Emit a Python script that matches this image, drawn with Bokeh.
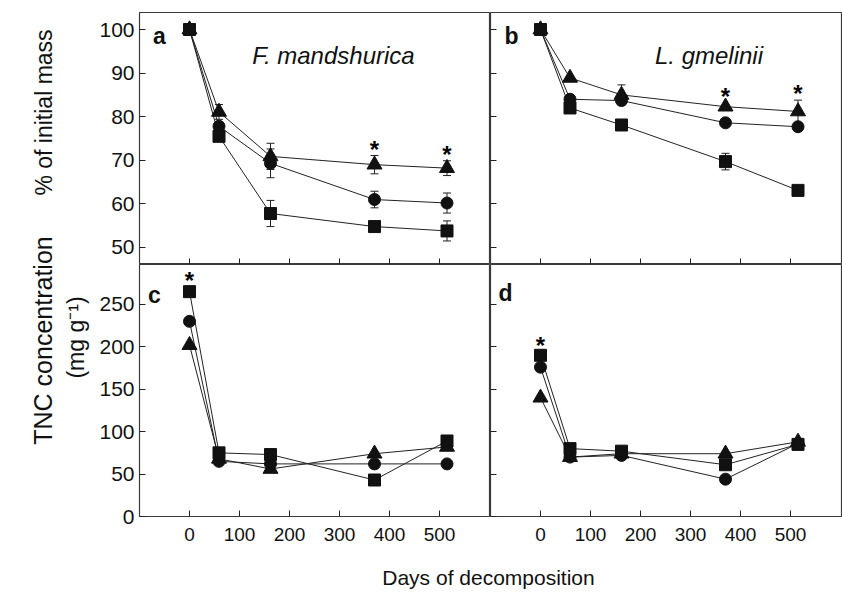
import math
from bokeh.plotting import figure
from bokeh.models import Range1d, FixedTicker, Whisker, TeeHead, ColumnDataSource, Label
from bokeh.layouts import column, row
from bokeh.embed import file_html
from bokeh.resources import INLINE
from bokeh.core.properties import value

# ---------------- data ----------------
days = [0, 59, 162, 370, 515]
x_ticks = [0, 100, 200, 300, 400, 500]
mass_ticks = [50, 60, 70, 80, 90, 100]
tnc_ticks = [0, 50, 100, 150, 200, 250]

# panel a  (F. mandshurica, % of initial mass)
a_tri = [100, 81.1, 70.9, 69.0, 68.2]
a_cir = [100, 77.8, 69.3, 61.0, 60.2]
a_sq = [100, 75.5, 57.8, 54.8, 53.8]
a_tri_err = [0, 1.7, 3.0, 2.1, 1.7]
a_cir_err = [0, 0, 3.3, 1.9, 2.3]
a_sq_err = [0, 0, 3.0, 0, 2.3]

# panel b  (L. gmelinii, % of initial mass)
b_tri = [100, 88.9, 85.0, 82.3, 81.2]
b_cir = [100, 84.0, 83.7, 78.6, 77.7]
b_sq = [100, 82.0, 78.1, 69.7, 63.1]
b_tri_err = [0, 0, 2.3, 0, 2.6]
b_cir_err = [0, 0, 0, 0, 0]
b_sq_err = [0, 0, 0, 1.9, 0]

# panel c  (F. mandshurica, TNC mg g-1)
c_tri = [202, 68, 56, 74, 82]
c_cir = [230, 65, 62, 62, 62]
c_sq = [265, 75, 73, 43, 89]

# panel d  (L. gmelinii, TNC mg g-1)
d_tri = [140, 70, 74, 74, 88]
d_cir = [176, 70, 72, 44, 86]
d_sq = [190, 80, 77, 61, 85]

# significance asterisks (x = day, y = baseline value)
a_star_x, a_star_y = [370, 515], [72.4, 71.3]
b_star_x, b_star_y = [370, 515], [84.7, 85.3]
c_star_x, c_star_y = [0], [278.6]
d_star_x, d_star_y = [0], [201]

FONT = "Liberation Sans"
INK = "#111111"

STRIP_W = 92    # left strip holding the y axis titles
LEFT = 139 - STRIP_W   # left border of panels a and c (tick labels)
FW = 351        # frame width of each panel
TOP = 12
FH = 252        # frame height of each panel
BOTTOM = 36     # room for x tick labels
TOTAL_H = 592


def make_fig(width, height, yrange, yticks, left, right, bottom, top, show_xlabels, show_ylabels):
    p = figure(width=width, height=height,
               x_range=Range1d(-100, 602), y_range=Range1d(*yrange),
               output_backend="svg", toolbar_location=None,
               min_border_left=left, min_border_right=right,
               min_border_top=top, min_border_bottom=bottom)
    p.grid.visible = False
    p.outline_line_color = "#3a3a3a"
    p.outline_line_width = 1.2
    p.background_fill_color = "white"
    p.border_fill_color = "white"
    for ax, ticks, show, size in ((p.xaxis[0], x_ticks, show_xlabels, "19px"),
                                  (p.yaxis[0], yticks, show_ylabels, "21px")):
        ax.ticker = FixedTicker(ticks=ticks)
        ax.major_tick_in = 6
        ax.major_tick_out = 0
        ax.minor_tick_line_color = None
        ax.axis_line_color = None
        ax.major_tick_line_color = "#222222"
        ax.major_label_text_font = FONT
        ax.major_label_text_color = "#111111"
        if show:
            ax.major_label_text_font_size = size
        else:
            ax.major_label_overrides = {t: "" for t in ticks}
            ax.major_label_text_font_size = "1px"
            ax.major_label_standoff = 0
    p.xaxis.major_label_standoff = 11 if show_xlabels else 0
    p.yaxis.major_label_standoff = 5 if show_ylabels else 0
    return p


def draw_series(p, tri, cir, sq, errs=None):
    for ys in (tri, cir, sq):
        p.line(days, ys, line_color="#222222", line_width=1)
    if errs is not None:
        for ys, err in zip((tri, cir, sq), errs):
            xs = [d for d, e in zip(days, err) if e > 0]
            up = [y + e for y, e in zip(ys, err) if e > 0]
            lo = [y - e for y, e in zip(ys, err) if e > 0]
            src = ColumnDataSource(dict(x=xs, upper=up, lower=lo))
            w = Whisker(source=src, base="x", upper="upper", lower="lower",
                        line_color="#222222", line_width=1,
                        upper_head=TeeHead(size=8, line_color="#222222", line_width=1),
                        lower_head=TeeHead(size=8, line_color="#222222", line_width=1))
            p.add_layout(w)
    p.scatter(days, tri, marker="triangle", size=15, fill_color=INK, line_color=INK)
    p.scatter(days, cir, marker="circle", size=12, fill_color=INK, line_color=INK)
    p.scatter(days, sq, marker="square", size=12, fill_color=INK, line_color=INK)


def stars(p, xs, ys):
    src = ColumnDataSource(dict(x=xs, y=ys, t=["*"] * len(xs)))
    p.text(x="x", y="y", text="t", source=src, text_font=value(FONT),
           text_font_size="24px", text_font_style="bold",
           text_align="center", text_baseline="alphabetic", text_color="black")


def letter(p, txt, x, y):
    p.add_layout(Label(x=x, y=y, text=txt, text_font=FONT, text_font_size="23px",
                       text_font_style="bold", text_align="center",
                       text_baseline="alphabetic", text_color=INK))


def species(p, txt, x, y):
    p.add_layout(Label(x=x, y=y, text=txt, text_font=FONT, text_font_size="24px",
                       text_font_style="italic", text_align="center",
                       text_baseline="alphabetic", text_color=INK))


pa = make_fig(LEFT + FW, TOP + FH, (46.1, 103.9), mass_ticks, LEFT, 0, 0, TOP, False, True)
pb = make_fig(FW + 1, TOP + FH, (46.1, 103.9), mass_ticks, 0, 1, 0, TOP, False, False)
pc = make_fig(LEFT + FW, FH + BOTTOM, (0, 297), tnc_ticks, LEFT, 0, BOTTOM, 0, True, True)
pd = make_fig(FW + 1, FH + BOTTOM, (0, 297), tnc_ticks, 0, 1, BOTTOM, 0, True, False)

draw_series(pa, a_tri, a_cir, a_sq, (a_tri_err, a_cir_err, a_sq_err))
draw_series(pb, b_tri, b_cir, b_sq, (b_tri_err, b_cir_err, b_sq_err))
draw_series(pc, c_tri, c_cir, c_sq)
draw_series(pd, d_tri, d_cir, d_sq)

stars(pa, a_star_x, a_star_y)
stars(pb, b_star_x, b_star_y)
stars(pc, c_star_x, c_star_y)
stars(pd, d_star_x, d_star_y)

letter(pa, "a", -60, 98.6)
letter(pb, "b", -58, 98.6)
letter(pc, "c", -70, 260.6)
letter(pd, "d", -70, 264)

species(pa, "F. mandshurica", 288, 94.0)
species(pb, "L. gmelinii", 337, 94.0)

# left strip with the y axis titles
ps = figure(width=STRIP_W, height=TOTAL_H, output_backend="svg", toolbar_location=None,
            x_range=Range1d(0, 1), y_range=Range1d(0, 1),
            min_border_left=0, min_border_right=0, min_border_top=0, min_border_bottom=0)
ps.axis.visible = False
ps.grid.visible = False
ps.outline_line_color = None
ps.add_layout(Label(x=43, y=TOTAL_H - 112, x_units="screen", y_units="screen",
                    text="% of initial mass", angle=math.pi / 2,
                    text_font=FONT, text_font_size="23px", text_align="center",
                    text_baseline="middle", text_color=INK))
ps.add_layout(Label(x=42, y=TOTAL_H - 340, x_units="screen", y_units="screen",
                    text="TNC concentration", angle=math.pi / 2,
                    text_font=FONT, text_font_size="25px", text_align="center",
                    text_baseline="middle", text_color=INK))
ps.add_layout(Label(x=75, y=TOTAL_H - 337, x_units="screen", y_units="screen",
                    text="(mg g\u207b\u00b9)", angle=math.pi / 2,
                    text_font=FONT, text_font_size="23px", text_align="center",
                    text_baseline="middle", text_color=INK))

# x axis title in its own strip
STRIP_H = TOTAL_H - (TOP + FH) - (FH + BOTTOM)
pt = figure(width=LEFT + FW + FW + 1, height=STRIP_H, output_backend="svg", toolbar_location=None,
            x_range=Range1d(0, 1), y_range=Range1d(0, 1),
            min_border_left=0, min_border_right=0, min_border_top=0, min_border_bottom=0)
pt.axis.visible = False
pt.grid.visible = False
pt.outline_line_color = None
pt.add_layout(Label(x=488 - STRIP_W, y=STRIP_H - 25, x_units="screen", y_units="screen",
                    text="Days of decomposition", text_font=FONT, text_font_size="21px",
                    text_align="center", text_baseline="middle", text_color=INK))

layout = row(ps, column(row(pa, pb), row(pc, pd), pt))
open("out.html", "w").write(file_html(layout, INLINE))
